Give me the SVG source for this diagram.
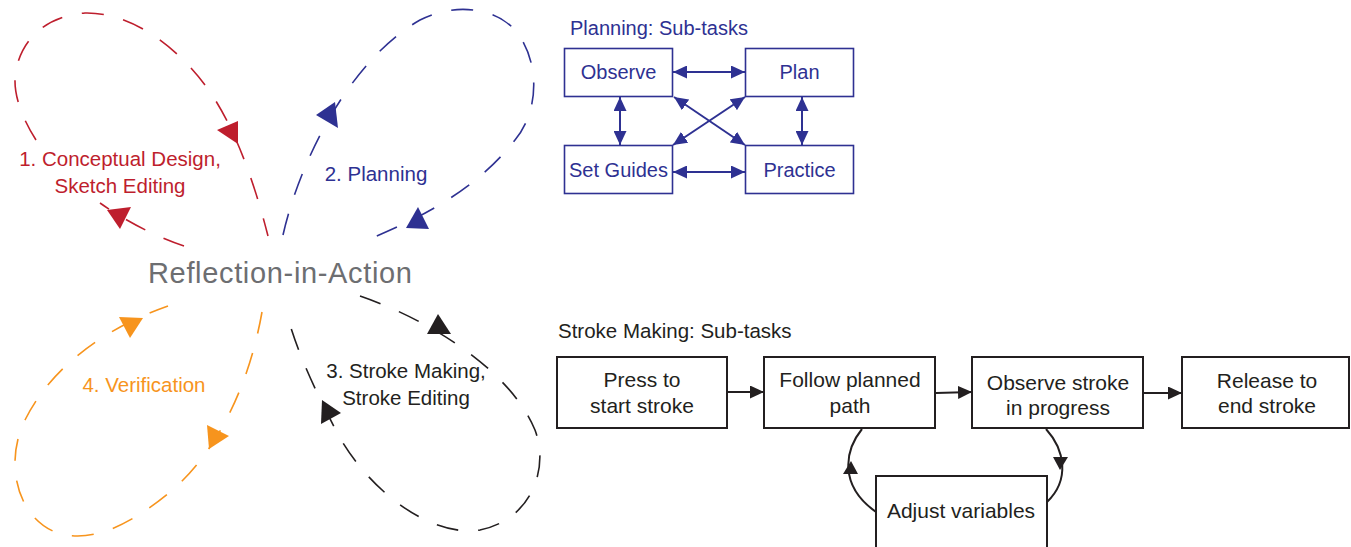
<svg xmlns="http://www.w3.org/2000/svg" width="1351" height="547" viewBox="0 0 1351 547">
  <style>
    text { font-family: "Liberation Sans", Arial, sans-serif; }
    .loop { fill: none; stroke-width: 1.6; stroke-dasharray: 22 20; }
    .red { stroke: #be1e2d; }
    .blue { stroke: #2e3192; }
    .orange { stroke: #f7941d; }
    .black { stroke: #231f20; }
    .lbl { font-size: 20.5px; text-anchor: middle; }
    .pbox { fill: #fff; stroke: #2e3192; stroke-width: 1.6; }
    .ptxt { font-size: 20px; fill: #2e3192; text-anchor: middle; }
    .sbox { fill: #fff; stroke: #231f20; stroke-width: 2; }
    .stxt { font-size: 21px; fill: #231f20; text-anchor: middle; }
    .plink { stroke: #2e3192; stroke-width: 2; fill: none; }
    .slink { stroke: #231f20; stroke-width: 2; fill: none; }
  </style>
  <defs>
    <marker id="headBlue" viewBox="0 0 14 13" refX="14" refY="6.5" markerWidth="14" markerHeight="13" markerUnits="userSpaceOnUse" orient="auto-start-reverse">
      <path d="M0,0 L14,6.5 L0,13 z" fill="#2e3192"/>
    </marker>
    <marker id="headBlack" viewBox="0 0 14 13" refX="14" refY="6.5" markerWidth="14" markerHeight="13" markerUnits="userSpaceOnUse" orient="auto">
      <path d="M0,0 L14,6.5 L0,13 z" fill="#231f20"/>
    </marker>
  </defs>

  <!-- central label -->
  <g id="reflection">
    <text x="148" y="283" font-size="29" fill="#6d6e71" textLength="264">Reflection-in-Action</text>
  </g>

  <!-- four dashed loops around the centre -->
  <g id="loop-conceptual">
    <path class="loop red" d="M184,246 C160,238 130,224 100,203 M36,140 C20,115 12,90 16,70 C22,40 45,16 85,13 C130,12 175,45 205,85 C235,125 255,185 268,236"/>
    <polygon points="238,144 217,130 238,121" fill="#be1e2d"/>
    <polygon points="107,210 131,207 120,229" fill="#be1e2d"/>
    <text class="lbl" x="120" y="166" fill="#be1e2d">1. Conceptual Design,</text>
    <text class="lbl" x="120" y="193" fill="#be1e2d">Sketch Editing</text>
  </g>

  <g id="loop-planning">
    <path class="loop blue" d="M283,235 C300,160 350,60 420,20 C455,2 495,8 515,30 C540,60 540,110 515,140 C480,185 430,215 362,242"/>
    <polygon points="335,102 316,115 338,128" fill="#2e3192"/>
    <polygon points="406,228 418,207 429,229" fill="#2e3192"/>
    <text class="lbl" x="376" y="181" fill="#2e3192">2. Planning</text>
  </g>

  <g id="loop-stroke">
    <path class="loop black" d="M360,296 C430,320 510,370 535,430 C550,470 530,520 480,530 C430,538 370,490 340,438 C320,400 300,360 288,318"/>
    <polygon points="451,334 438,314 427,334" fill="#231f20"/>
    <polygon points="322,400 341,413 321,424" fill="#231f20"/>
    <text class="lbl" x="406" y="378" fill="#231f20">3. Stroke Making,</text>
    <text class="lbl" x="406" y="405" fill="#231f20">Stroke Editing</text>
  </g>

  <g id="loop-verification">
    <path class="loop orange" d="M262,312 C250,380 220,450 170,492 C130,525 90,545 55,532 C15,515 5,460 25,420 C50,370 100,330 168,306"/>
    <polygon points="143,318 119,317 130,338" fill="#f7941d"/>
    <polygon points="209,449 207,425 229,436" fill="#f7941d"/>
    <text class="lbl" x="144" y="392" fill="#f7941d">4. Verification</text>
  </g>

  <!-- planning sub-tasks -->
  <g id="planning-title">
    <text x="570" y="35" font-size="20" fill="#2e3192">Planning: Sub-tasks</text>
  </g>
  <g id="p-observe">
    <rect class="pbox" x="564.5" y="48.5" width="108" height="48"/>
    <text class="ptxt" x="618.5" y="79">Observe</text>
  </g>
  <g id="p-plan">
    <rect class="pbox" x="745.5" y="48.5" width="108" height="48"/>
    <text class="ptxt" x="799.5" y="79">Plan</text>
  </g>
  <g id="p-setguides">
    <rect class="pbox" x="564.5" y="145.5" width="108" height="48"/>
    <text class="ptxt" x="618.5" y="177">Set Guides</text>
  </g>
  <g id="p-practice">
    <rect class="pbox" x="745.5" y="145.5" width="108" height="48"/>
    <text class="ptxt" x="799.5" y="177">Practice</text>
  </g>

  <!-- stroke making sub-tasks -->
  <g id="stroke-title">
    <text x="558" y="338" font-size="20.5" fill="#231f20">Stroke Making: Sub-tasks</text>
  </g>
  <g id="s-press">
    <rect class="sbox" x="557" y="357" width="170" height="71"/>
    <text class="stxt" x="642" y="387">Press to</text>
    <text class="stxt" x="642" y="413">start stroke</text>
  </g>
  <g id="s-follow">
    <rect class="sbox" x="764" y="357" width="171" height="71"/>
    <text class="stxt" x="850" y="387">Follow planned</text>
    <text class="stxt" x="850" y="413">path</text>
  </g>
  <g id="s-observe">
    <rect class="sbox" x="972" y="357" width="171" height="71"/>
    <text class="stxt" x="1058" y="390">Observe stroke</text>
    <text class="stxt" x="1058" y="415">in progress</text>
  </g>
  <g id="s-release">
    <rect class="sbox" x="1182" y="357" width="167" height="71"/>
    <text class="stxt" x="1267" y="388">Release to</text>
    <text class="stxt" x="1267" y="413">end stroke</text>
  </g>
  <g id="s-adjust">
    <rect class="sbox" x="876" y="476" width="171" height="80"/>
    <text class="stxt" x="961" y="518">Adjust variables</text>
  </g>

  <!-- connectors -->
  <g id="connectors">
    <line class="plink" x1="673" y1="72" x2="745" y2="72" marker-start="url(#headBlue)" marker-end="url(#headBlue)"/>
    <line class="plink" x1="673" y1="172" x2="745" y2="172" marker-start="url(#headBlue)" marker-end="url(#headBlue)"/>
    <line class="plink" x1="620" y1="97" x2="620" y2="145" marker-start="url(#headBlue)" marker-end="url(#headBlue)"/>
    <line class="plink" x1="802" y1="97" x2="802" y2="145" marker-start="url(#headBlue)" marker-end="url(#headBlue)"/>
    <line class="plink" x1="674" y1="97" x2="745" y2="145" marker-start="url(#headBlue)" marker-end="url(#headBlue)"/>
    <line class="plink" x1="745" y1="97" x2="673" y2="145" marker-start="url(#headBlue)" marker-end="url(#headBlue)"/>

    <line class="slink" x1="728" y1="392" x2="764" y2="392" stroke-width="1.6" marker-end="url(#headBlack)"/>
    <line class="slink" x1="936" y1="393" x2="972" y2="392" marker-end="url(#headBlack)"/>
    <line class="slink" x1="1144" y1="393" x2="1182" y2="393" stroke-width="1.6" marker-end="url(#headBlack)"/>
    <path class="slink" d="M862,429 C845,450 838,485 876,512"/>
    <polygon points="851,461 843,474 858,474" fill="#231f20"/>
    <path class="slink" d="M1046,429 C1065,450 1070,480 1047,502"/>
    <polygon points="1060,470 1053,457 1068,457" fill="#231f20"/>
  </g>
</svg>
